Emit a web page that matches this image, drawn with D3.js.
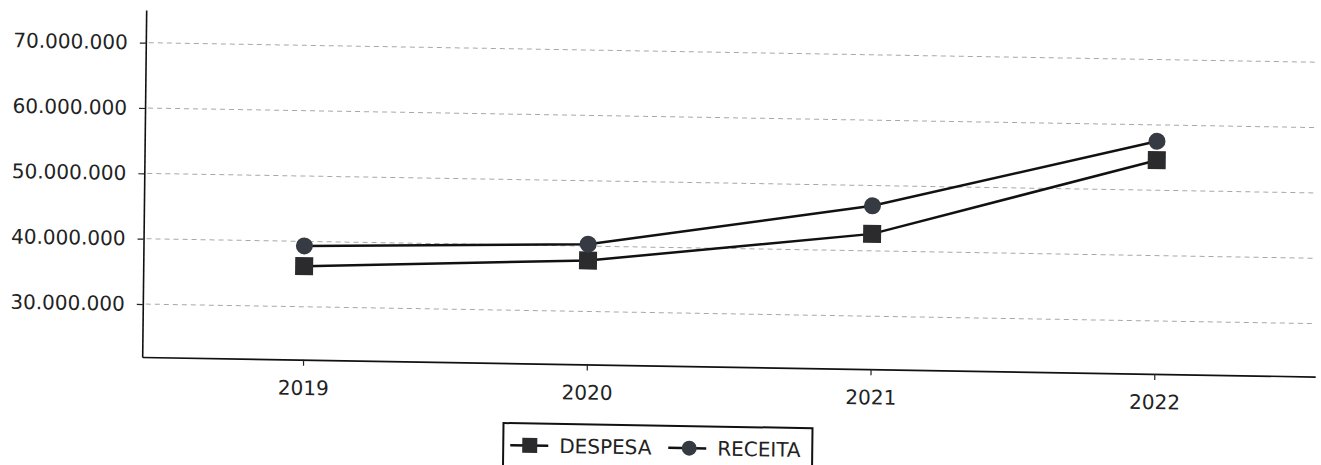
<!DOCTYPE html>
<html>
<head>
<meta charset="utf-8">
<script src="https://cdn.jsdelivr.net/npm/d3@7"></script>
<style>
    body { margin: 0; background: #fff; }
    svg { display: block; font-family: "DejaVu Sans", sans-serif; }
</style>
</head>
<body>
<svg id="chart" width="1321" height="465"></svg>
<script>
// DATA
const years = ["2019", "2020", "2021", "2022"];
const despesa = [36200000, 37800000, 42600000, 54600000];
const receita = [39300000, 40300000, 46900000, 57500000];
const yTicks = [30000000, 40000000, 50000000, 60000000, 70000000];
const seriesNames = ["DESPESA", "RECEITA"];

const width = 1321, height = 465;
const margin = { left: 144, right: 4, top: 10, bottom: 108 };

const ptBR = d3.formatLocale({ decimal: ",", thousands: ".", grouping: [3], currency: ["R$", ""] });
const fmt = ptBR.format(",d");

const svg = d3.select("svg#chart");

// the scanned page is slightly skewed, so the whole drawing is tilted a bit
const root = svg.append("g")
    .attr("transform", "translate(145,200) matrix(1,0.0167,-0.0115,1,0,0) translate(-145,-200)");

// SCALES
const xScale = d3.scalePoint()
    .domain(years)
    .range([margin.left, width - margin.right])
    .padding(0.567);

const yScale = d3.scaleLinear()
    .domain([21900000, 75000000])
    .range([height - margin.bottom, margin.top]);

// GRID
root.append("g")
    .selectAll("line")
    .data(yTicks)
    .join("line")
    .attr("x1", margin.left + 3)
    .attr("x2", width - margin.right)
    .attr("y1", d => yScale(d))
    .attr("y2", d => yScale(d))
    .attr("stroke", "#a8a8a8")
    .attr("stroke-width", 1)
    .attr("stroke-dasharray", "5,4");

// AXIS
const xAxis = g => g.attr("transform", `translate(0,${height - margin.bottom})`)
    .call(d3.axisBottom(xScale).tickSize(6).tickSizeOuter(0).tickPadding(15))
    .call(g => g.select(".domain").attr("stroke", "#111").attr("stroke-width", 1.6))
    .call(g => g.selectAll(".tick line").attr("stroke", "#222").attr("stroke-width", 1.2))
    .call(g => g.selectAll(".tick text").attr("font-size", 20).attr("fill", "#222")
        .attr("font-family", "DejaVu Sans"));

const yAxis = g => g.attr("transform", `translate(${margin.left},0)`)
    .call(d3.axisLeft(yScale).tickValues(yTicks).tickFormat(fmt).tickSize(6).tickSizeOuter(0).tickPadding(12))
    .call(g => g.select(".domain").attr("stroke", "#111").attr("stroke-width", 1.6))
    .call(g => g.selectAll(".tick line").attr("stroke", "#222").attr("stroke-width", 1.2))
    .call(g => g.selectAll(".tick text").attr("font-size", 20).attr("fill", "#222")
        .attr("font-family", "DejaVu Sans"));

root.append("g").call(xAxis);
root.append("g").call(yAxis);

// LINES
const line = d3.line()
    .x((d, i) => xScale(years[i]))
    .y(d => yScale(d));

[despesa, receita].forEach(vals => {
    root.append("path")
        .datum(vals)
        .attr("d", line)
        .attr("fill", "none")
        .attr("stroke", "#111")
        .attr("stroke-width", 2.5);
});

// MARKERS
const sq = 18;
root.append("g")
    .selectAll("rect")
    .data(despesa)
    .join("rect")
    .attr("x", (d, i) => xScale(years[i]) - sq / 2)
    .attr("y", d => yScale(d) - sq / 2)
    .attr("width", sq)
    .attr("height", sq)
    .attr("fill", "#2b2b2d");

root.append("g")
    .selectAll("circle")
    .data(receita)
    .join("circle")
    .attr("cx", (d, i) => xScale(years[i]))
    .attr("cy", d => yScale(d))
    .attr("r", 8.5)
    .attr("fill", "#363a42");

// LEGEND
const legend = root.append("g").attr("transform", "translate(506,417)");
legend.append("rect")
    .attr("width", 309)
    .attr("height", 43)
    .attr("fill", "#fff")
    .attr("stroke", "#111")
    .attr("stroke-width", 2);

const items = [
    { name: seriesNames[0], x: 7, shape: "square" },
    { name: seriesNames[1], x: 165, shape: "circle" }
];
items.forEach(it => {
    const g = legend.append("g").attr("transform", `translate(${it.x},22)`);
    g.append("line").attr("x1", 0).attr("x2", 38).attr("stroke", "#111").attr("stroke-width", 2.5);
    if (it.shape === "square") {
        g.append("rect").attr("x", 12).attr("y", -7.5).attr("width", 15).attr("height", 15).attr("fill", "#2b2b2d");
    } else {
        g.append("circle").attr("cx", 21).attr("r", 7.5).attr("fill", "#363a42");
    }
    g.append("text")
        .attr("x", 49)
        .attr("y", 7)
        .attr("font-size", 20)
        .attr("fill", "#222")
        .text(it.name);
});
</script>
</body>
</html>
